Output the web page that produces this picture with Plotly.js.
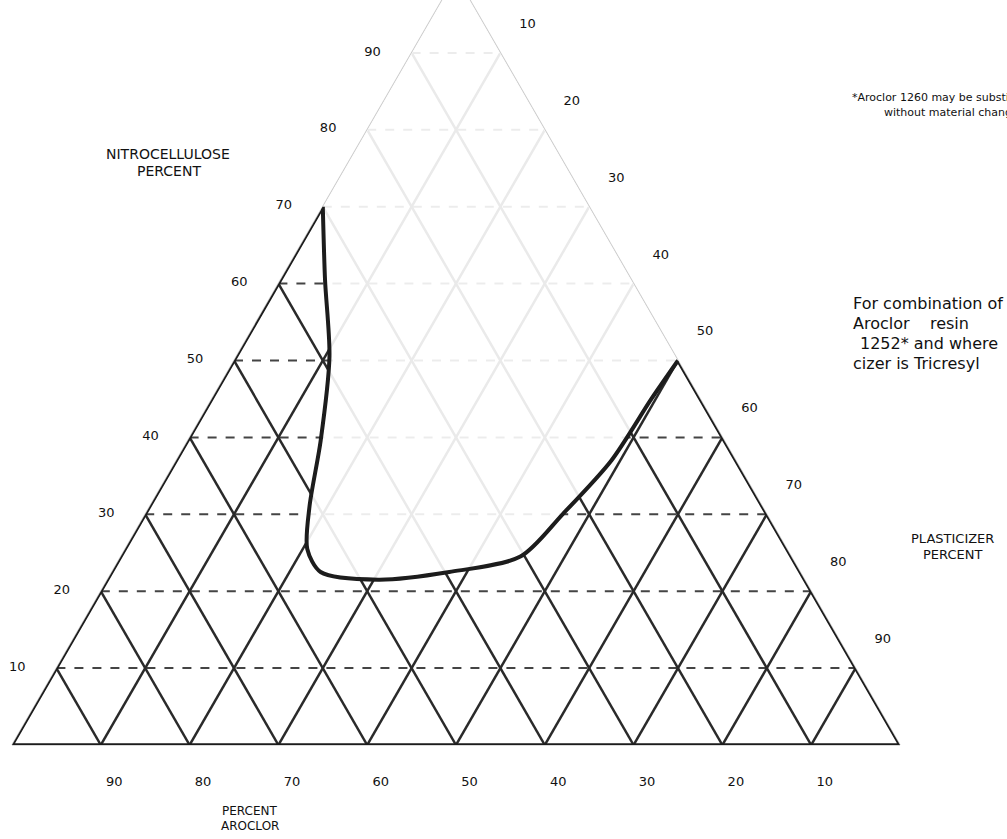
<!DOCTYPE html>
<html><head><meta charset="utf-8">
<script src="https://cdn.plot.ly/plotly-3.0.1.min.js"></script>
<style>
html,body{margin:0;padding:0;overflow:hidden;background:#fff;width:1007px;height:839px}
#chart{position:absolute;left:0;top:-40px;width:1007px;height:900px}
</style>
</head><body><div id="chart"></div>
<script>
// tick values (percent)
const nitroTicks = [10, 20, 30, 40, 50, 60, 70, 80, 90];
const aroclorTicks = [10, 20, 30, 40, 50, 60, 70, 80, 90];
const plasticizerTicks = [10, 20, 30, 40, 50, 60, 70, 80, 90];

// compatibility boundary, from the 70% nitrocellulose apex to the 50% plasticizer apex
const boundaryNitro =       [70, 60.5, 50.5, 39.5, 31, 25.5, 22.5, 21.5, 22.5, 24.5, 30, 37, 45, 50];
const boundaryAroclor =     [30, 34.5, 39, 45.5, 51, 54, 54, 48, 39.5, 30.5, 23, 14, 5.5, 0];
const boundaryPlasticizer = [0, 5, 10.5, 15, 18, 20.5, 23.5, 30.5, 38, 45, 47, 49, 49.5, 50];

// pure-component corners [nitro, aroclor, plasticizer]
const pureNitro = [100, 0, 0];
const pureAroclor = [0, 100, 0];
const purePlasticizer = [0, 0, 100];

const nB = boundaryNitro.length - 1;

const traces = [
  // faded (incompatible) region
  {
    type: 'scatterternary', mode: 'lines',
    a: boundaryNitro.concat([pureNitro[0]]),
    b: boundaryAroclor.concat([pureNitro[1]]),
    c: boundaryPlasticizer.concat([pureNitro[2]]),
    fill: 'toself', fillcolor: 'rgba(255,255,255,0.9)',
    line: {width: 0, color: 'rgba(0,0,0,0)'},
    hoverinfo: 'skip', showlegend: false
  },
  // heavy outline of the compatible region along the triangle edges
  {
    type: 'scatterternary', mode: 'lines', cliponaxis: false,
    a: [boundaryNitro[0], pureAroclor[0], purePlasticizer[0], boundaryNitro[nB]],
    b: [boundaryAroclor[0], pureAroclor[1], purePlasticizer[1], boundaryAroclor[nB]],
    c: [boundaryPlasticizer[0], pureAroclor[2], purePlasticizer[2], boundaryPlasticizer[nB]],
    line: {width: 3.5, color: '#1c1c1c'},
    hoverinfo: 'skip', showlegend: false
  },
  // compatibility boundary curve
  {
    type: 'scatterternary', mode: 'lines', cliponaxis: false,
    a: boundaryNitro, b: boundaryAroclor, c: boundaryPlasticizer,
    line: {width: 4, color: '#1c1c1c', shape: 'spline', smoothing: 0.8},
    hoverinfo: 'skip', showlegend: false
  }
];

const axisCommon = {
  title: {text: ' '},
  showgrid: true, gridcolor: '#2a2a2a', gridwidth: 2.5,
  showline: true, linecolor: '#cccccc', linewidth: 1.5,
  layer: 'below traces',
  ticks: 'outside', tickcolor: 'rgba(0,0,0,0)',
  tickfont: {family: 'DejaVu Sans', size: 13, color: '#111'},
  tickmode: 'array'
};

const txt = {family: 'DejaVu Sans', color: '#111'};
function label(text, px, py, size, anchor) {
  // px, py: page pixels of the text anchor; converted to paper fractions of the 888x769 plot area
  return {xref: 'paper', yref: 'paper', x: (px - 12) / 888, y: (745 - py) / 769,
          xanchor: anchor || 'center', yanchor: 'middle', showarrow: false,
          text: text, font: Object.assign({size: size}, txt)};
}

const layout = {
  width: 1007, height: 900,
  margin: {l: 12, r: 107, t: 16, b: 115},
  paper_bgcolor: '#fff',
  showlegend: false,
  ternary: {
    sum: 100,
    domain: {x: [0, 1], y: [0, 1]},
    bgcolor: '#fff',
    aaxis: Object.assign({}, axisCommon, {tickvals: nitroTicks, griddash: 'dash', gridcolor: '#444', gridwidth: 2, ticklen: 28}),
    baxis: Object.assign({}, axisCommon, {tickvals: aroclorTicks, ticklen: 27}),
    caxis: Object.assign({}, axisCommon, {tickvals: plasticizerTicks, ticklen: 32})
  },
  annotations: [
    label('NITROCELLULOSE', 168, 154, 14),
    label('PERCENT', 169, 171, 14),
    label('PERCENT', 250, 811, 12),
    label('AROCLOR', 250, 826, 12),
    label('PLASTICIZER', 952, 538, 13),
    label('PERCENT', 952, 554, 13),
    label('*Aroclor 1260 may be substituted', 850, 97, 11, 'left'),
    label('without material change', 882, 113, 11, 'left'),
    label('For combination of', 851, 303, 16, 'left'),
    label('Aroclor\u00a0\u00a0\u00a0\u00a0resin', 851, 323, 16, 'left'),
    label('1252* and where', 858, 343, 16, 'left'),
    label('cizer is Tricresyl', 851, 363, 16, 'left')
  ]
};

Plotly.newPlot('chart', traces, layout, {displayModeBar: false, staticPlot: true});
</script>
</body></html>
